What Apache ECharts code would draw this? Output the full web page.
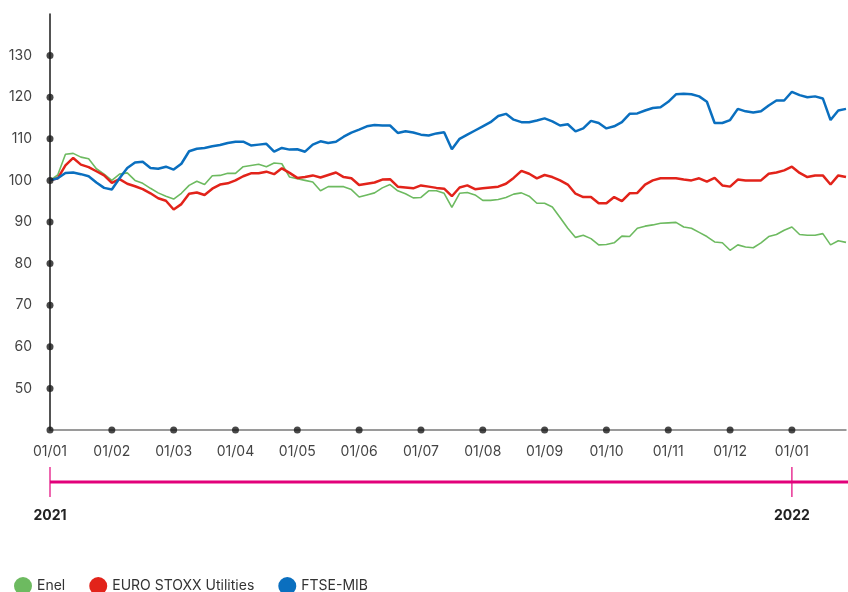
<!DOCTYPE html>
<html>
<head>
<meta charset="utf-8">
<script src="https://cdn.jsdelivr.net/npm/echarts@6/dist/echarts.min.js"></script>
<style>
  html, body { margin: 0; padding: 0; background: #fff; }
  #main { width: 848px; height: 592px; }
</style>
</head>
<body>
<div id="main"></div>
<script>
// month labels on the x axis, one every 8 samples
const monthLabels = ['01/01', '01/02', '01/03', '01/04', '01/05', '01/06', '01/07',
  '01/08', '01/09', '01/10', '01/11', '01/12', '01/01'];
const samplesPerMonth = 8;
const yearLabels = ['2021', '2022'];
const yTicks = [50, 60, 70, 80, 90, 100, 110, 120, 130];

const enel = [
  100, 101.3, 106.3, 106.5, 105.6, 105.2, 102.8, 101.5, 100, 101.5, 101.8, 100, 99.3, 98.1, 97, 96.2,
  95.5, 96.9, 98.8, 99.8, 99, 101.1, 101.2, 101.7, 101.7, 103.3, 103.6, 103.9, 103.3, 104.2, 104, 100.8,
  100.4, 100, 99.6, 97.5, 98.5, 98.5, 98.5, 97.8, 96, 96.5, 97, 98.2, 99, 97.5, 96.8, 95.8,
  95.9, 97.5, 97.5, 96.9, 93.5, 96.9, 97.1, 96.5, 95.2, 95.2, 95.4, 95.9, 96.7, 97, 96.2, 94.5,
  94.5, 93.6, 91.1, 88.5, 86.3, 86.8, 86, 84.5, 84.6, 85, 86.6, 86.5, 88.5, 89, 89.3, 89.7,
  89.8, 89.9, 88.8, 88.5, 87.5, 86.5, 85.2, 85, 83.2, 84.5, 84, 83.8, 85, 86.5, 87, 88,
  88.8, 87, 86.8, 86.8, 87.2, 84.5, 85.5, 85.1
];
const euroStoxxUtil = [
  100, 100.5, 103.6, 105.4, 103.8, 103.2, 102.2, 101.2, 99.4, 100.3, 99.2, 98.6, 97.9, 96.9, 95.7, 95.1,
  93, 94.3, 96.8, 97.1, 96.5, 98, 99, 99.3, 100, 101, 101.7, 101.7, 102.1, 101.5, 102.9, 101.8,
  100.6, 100.8, 101.2, 100.7, 101.3, 101.9, 100.8, 100.5, 98.9, 99.2, 99.5, 100.2, 100.3, 98.5, 98.3, 98.1,
  98.8, 98.5, 98.2, 98, 96.2, 98.3, 98.8, 97.9, 98.1, 98.3, 98.5, 99.2, 100.6, 102.3, 101.6, 100.5,
  101.3, 100.8, 100, 99, 96.8, 96, 96, 94.5, 94.5, 96, 95, 96.9, 97, 99, 100, 100.5,
  100.5, 100.5, 100.2, 100, 100.5, 99.7, 100.6, 98.8, 98.5, 100.2, 100, 100, 100, 101.6, 101.9, 102.4,
  103.3, 101.8, 100.8, 101.2, 101.2, 99, 101.2, 100.8
];
const ftseMib = [
  100, 100.5, 101.8, 101.9, 101.5, 101, 99.5, 98.2, 97.8, 100.5, 103, 104.3, 104.5, 103, 102.8, 103.3,
  102.6, 104, 107, 107.6, 107.8, 108.2, 108.5, 109, 109.3, 109.3, 108.4, 108.6, 108.8, 106.9, 107.8, 107.4,
  107.5, 106.9, 108.6, 109.4, 109, 109.3, 110.5, 111.5, 112.2, 113, 113.3, 113.2, 113.2, 111.4, 111.8, 111.5,
  111, 110.8, 111.3, 111.6, 107.5, 110, 111, 112, 113, 114, 115.5, 116, 114.6, 114, 114, 114.4,
  114.9, 114.2, 113.2, 113.5, 111.8, 112.5, 114.3, 113.8, 112.5, 113, 114, 116, 116.1, 116.8, 117.4, 117.6,
  118.9, 120.7, 120.8, 120.7, 120.2, 118.9, 113.8, 113.8, 114.5, 117.2, 116.6, 116.3, 116.6, 118, 119.2, 119.2,
  121.3, 120.5, 120, 120.2, 119.7, 114.5, 116.8, 117.2
];

const categories = enel.map((v, i) => i);
const yearIdx = [0, 12 * samplesPerMonth];

const tickDots = [];
yTicks.forEach(v => tickDots.push([0, v]));
monthLabels.forEach((m, k) => tickDots.push([k * samplesPerMonth, 40]));

const chart = echarts.init(document.getElementById('main'));
const font = 'Inter, "Noto Sans", sans-serif';

const option = {
  animation: false,
  grid: { left: 50, right: 2, top: 14, bottom: 162 },
  legend: {
    data: ['Enel', 'EURO STOXX Utilities', 'FTSE-MIB'],
    left: 9,
    top: 572,
    icon: 'circle',
    itemWidth: 18,
    itemHeight: 18,
    itemGap: 24,
    textStyle: { fontFamily: font, fontSize: 14, color: '#333' }
  },
  xAxis: {
    type: 'category',
    data: categories,
    boundaryGap: false,
    axisLine: { lineStyle: { color: '#7a7a7a', width: 1.5 } },
    axisTick: { show: false },
    axisLabel: {
      interval: i => i % samplesPerMonth === 0,
      formatter: (v, i) => monthLabels[i / samplesPerMonth] || '',
      margin: 15,
      fontFamily: font,
      fontSize: 14,
      color: '#444'
    },
    splitLine: { show: false }
  },
  yAxis: {
    type: 'value',
    min: 40,
    max: 140,
    interval: 10,
    axisLine: { show: true, lineStyle: { color: '#1a1a1a', width: 1.5 } },
    axisTick: { show: false },
    splitLine: { show: false },
    axisLabel: {
      formatter: v => (v === 40 || v === 140 ? '' : v),
      margin: 18,
      fontFamily: font,
      fontSize: 14,
      color: '#444'
    }
  },
  series: [
    {
      name: 'Enel', type: 'line', data: enel, showSymbol: false,
      itemStyle: { color: '#6dba60' }, lineStyle: { color: '#6dba60', width: 1.6 }
    },
    {
      name: 'EURO STOXX Utilities', type: 'line', data: euroStoxxUtil, showSymbol: false,
      itemStyle: { color: '#e2231a' }, lineStyle: { color: '#e2231a', width: 2.5 }
    },
    {
      name: 'FTSE-MIB', type: 'line', data: ftseMib, showSymbol: false,
      itemStyle: { color: '#0a6fbf' }, lineStyle: { color: '#0a6fbf', width: 2.5 }
    },
    {
      name: 'ticks', type: 'scatter', data: tickDots, symbol: 'circle', symbolSize: 7,
      clip: false, itemStyle: { color: '#1a1a1a' }, z: 5, silent: true
    }
  ]
};
chart.setOption(option);

// year timeline under the month labels
const lineY = 482;
const xs = yearIdx.map(i => chart.convertToPixel({ xAxisIndex: 0 }, i));
const graphics = [{
  type: 'line',
  shape: { x1: xs[0], y1: lineY, x2: 848, y2: lineY },
  style: { stroke: '#e2007a', lineWidth: 3 }
}];
xs.forEach((x, k) => {
  graphics.push({
    type: 'line',
    shape: { x1: x, y1: lineY - 15, x2: x, y2: lineY + 15 },
    style: { stroke: '#e2007a', lineWidth: 1.2 }
  });
  graphics.push({
    type: 'text',
    x: x, y: 516,
    style: {
      text: yearLabels[k], align: 'center', verticalAlign: 'middle',
      fontFamily: font, fontSize: 14, fontWeight: 'bold', fill: '#222'
    }
  });
});
chart.setOption({ graphic: graphics });
</script>
</body>
</html>
